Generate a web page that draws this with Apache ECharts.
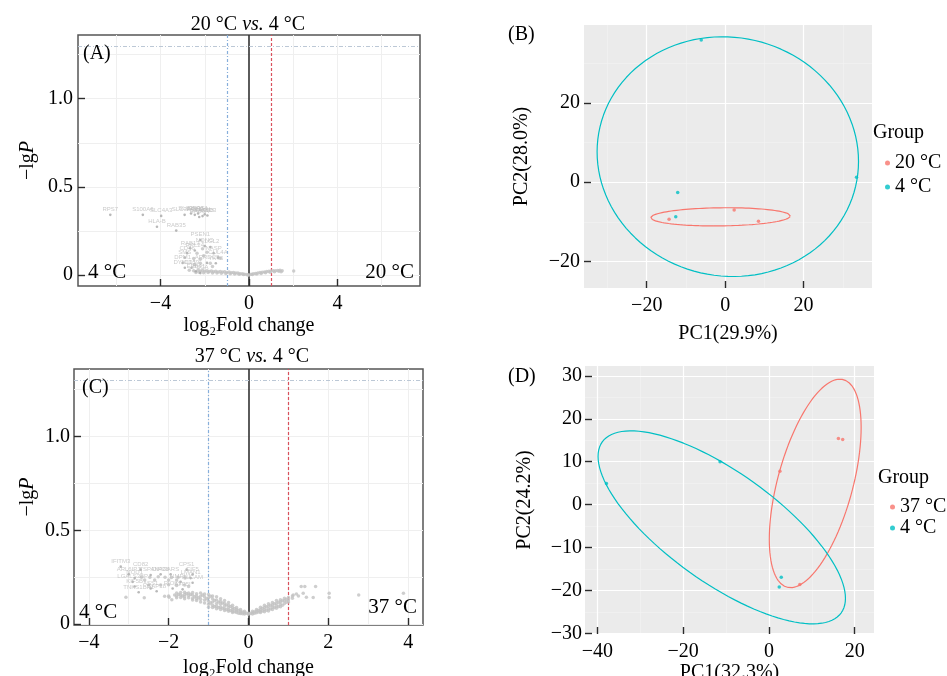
<!DOCTYPE html>
<html><head><meta charset="utf-8">
<script src="https://cdn.jsdelivr.net/npm/echarts@6/dist/echarts.min.js"></script>
<style>html,body{margin:0;padding:0;background:#fff}#c{width:947px;height:676px}</style>
</head><body><div id="c"></div><script>
// ---------------- DATA ----------------
// Panel A: volcano 20 °C vs 4 °C  [log2FC, -lgP]
const volcA_band = [
[-2.7,0.028],[-2.5,0.025],[-2.3,0.03],[-2.2,0.024],[-2.1,0.027],[-2.0,0.022],[-1.9,0.026],[-1.8,0.021],[-1.7,0.024],[-1.6,0.02],[-1.5,0.023],[-1.4,0.019],[-1.3,0.021],[-1.2,0.018],[-1.1,0.02],[-1.0,0.016],[-0.9,0.018],[-0.8,0.014],[-0.7,0.015],[-0.6,0.012],[-0.5,0.012],[-0.4,0.009],[-0.3,0.008],[-0.2,0.006],[-0.1,0.004],[0.0,0.002],[0.1,0.005],[0.2,0.008],[0.3,0.01],[0.4,0.013],[0.5,0.015],[0.6,0.017],[0.7,0.019],[0.8,0.021],[0.9,0.022],[1.0,0.024],[1.1,0.025],[1.2,0.026],[1.3,0.027],[1.4,0.028],[1.5,0.026],[2.02,0.024],
[-2.4,0.015],[-2.25,0.017],[-2.05,0.014],[-1.85,0.015],[-1.65,0.013],[-1.45,0.012],[-1.25,0.011],[-1.05,0.01],[-0.85,0.009],[-0.65,0.007],[-0.45,0.005],[-0.25,0.004],[-0.05,0.001],[0.15,0.004],[0.35,0.007],[0.55,0.01],[0.75,0.014],[0.95,0.017],[1.15,0.02],[1.35,0.022],[1.45,0.02],
[-2.35,0.125],[-2.05,0.11],[-2.2,0.09],[-1.9,0.13],[-1.3,0.096],[-2.2,0.068],[-1.75,0.068],[-2.5,0.095],[-2.1,0.15],[-2.45,0.06],[-1.65,0.05]
];
const volcA_genes = ['RPS7','S100A6','SLC4A3','HLA-B','RAB35','SLC38A1','SLC29A1','POLE','RNPS1','SEC22B','LYN','ARID3','RAB6A','PSEN1','NONO','LLGL2','RAB13','RPL24','CD46','NASP','SMS','CUL4A','DPM1','ARRDC3','YKT6','DYNLL1','CD59','EPB41','PSCA'];
const volcA_geneX = [-6.27,-4.80,-3.97,-4.16,-3.29,-2.91,-2.62,-2.45,-2.3,-2.1,-2.0,-1.88,-2.25,-2.2,-2.0,-1.75,-2.66,-2.45,-2.8,-1.6,-2.9,-1.4,-3.0,-1.9,-1.5,-2.9,-2.6,-2.4,-2.2];
const volcA_geneY = [0.342,0.342,0.336,0.275,0.253,0.342,0.35,0.342,0.35,0.335,0.345,0.338,0.33,0.2,0.165,0.16,0.153,0.14,0.125,0.125,0.1,0.1,0.07,0.07,0.068,0.042,0.042,0.022,0.012];

// Panel C: volcano 37 °C vs 4 °C
const volcC_band = [
[-2.1,0.148],[-2.0,0.15],[-1.92,0.13],[-1.85,0.155],
[-1.8,0.165],[-1.8,0.15],[-1.8,0.14],[-1.75,0.158],
[-1.7,0.168],[-1.7,0.155],[-1.7,0.142],[-1.65,0.15],
[-1.6,0.17],[-1.6,0.158],[-1.6,0.145],[-1.6,0.135],[-1.55,0.162],
[-1.5,0.165],[-1.5,0.152],[-1.5,0.14],[-1.45,0.158],
[-1.4,0.168],[-1.4,0.155],[-1.4,0.138],[-1.4,0.128],[-1.35,0.146],
[-1.3,0.162],[-1.3,0.15],[-1.3,0.135],[-1.3,0.125],[-1.25,0.14],
[-1.2,0.165],[-1.2,0.148],[-1.2,0.132],[-1.2,0.118],[-1.15,0.155],
[-1.1,0.16],[-1.1,0.145],[-1.1,0.128],[-1.1,0.112],[-1.05,0.135],
[-1.0,0.158],[-1.0,0.14],[-1.0,0.122],[-1.0,0.105],[-1.0,0.09],
[-0.95,0.148],[-0.95,0.112],
[-0.9,0.15],[-0.9,0.135],[-0.9,0.118],[-0.9,0.1],[-0.9,0.088],
[-0.85,0.126],[-0.85,0.094],
[-0.8,0.145],[-0.8,0.128],[-0.8,0.11],[-0.8,0.095],[-0.8,0.082],
[-0.75,0.118],[-0.75,0.088],
[-0.7,0.135],[-0.7,0.12],[-0.7,0.105],[-0.7,0.09],[-0.7,0.078],
[-0.65,0.112],[-0.65,0.084],
[-0.6,0.125],[-0.6,0.11],[-0.6,0.096],[-0.6,0.082],[-0.6,0.072],
[-0.55,0.102],[-0.55,0.078],
[-0.5,0.115],[-0.5,0.1],[-0.5,0.088],[-0.5,0.076],[-0.5,0.068],
[-0.45,0.094],[-0.45,0.072],
[-0.4,0.1],[-0.4,0.088],[-0.4,0.078],[-0.4,0.068],[-0.4,0.062],
[-0.35,0.083],[-0.35,0.066],
[-0.3,0.088],[-0.3,0.078],[-0.3,0.07],[-0.3,0.062],
[-0.25,0.073],[-0.25,0.058],
[-0.2,0.078],[-0.2,0.068],[-0.2,0.06],[-0.2,0.056],
[-0.15,0.064],[-0.15,0.055],
[-0.1,0.068],[-0.1,0.06],[-0.1,0.054],
[-0.05,0.057],[0,0.058],[0,0.052],[0.05,0.056],
[0.1,0.068],[0.1,0.06],[0.1,0.054],
[0.15,0.066],[0.15,0.058],
[0.2,0.078],[0.2,0.068],[0.2,0.06],
[0.25,0.074],[0.25,0.064],
[0.3,0.09],[0.3,0.078],[0.3,0.068],[0.3,0.062],
[0.35,0.084],[0.35,0.07],
[0.4,0.1],[0.4,0.088],[0.4,0.076],[0.4,0.066],
[0.45,0.092],[0.45,0.074],
[0.5,0.108],[0.5,0.095],[0.5,0.082],[0.5,0.07],
[0.55,0.1],[0.55,0.08],
[0.6,0.115],[0.6,0.102],[0.6,0.09],[0.6,0.078],
[0.65,0.108],[0.65,0.088],
[0.7,0.125],[0.7,0.11],[0.7,0.096],[0.7,0.084],
[0.75,0.116],[0.75,0.094],
[0.8,0.13],[0.8,0.118],[0.8,0.104],[0.8,0.092],
[0.85,0.124],[0.85,0.1],
[0.9,0.138],[0.9,0.125],[0.9,0.11],
[0.95,0.132],[0.95,0.116],
[1.0,0.142],[1.0,0.13],[1.0,0.118],
[1.1,0.15],[1.1,0.138],
[1.12,0.155],[1.2,0.16],[1.25,0.15],[1.32,0.2],[1.41,0.2],[1.68,0.2],[1.37,0.164],[1.45,0.143],[1.62,0.142],[2.02,0.164],[2.02,0.142],[2.76,0.155],[3.88,0.164],
[-3.07,0.143],[-2.61,0.14],[-1.99,0.143],
[-2.68,0.25],[-2.47,0.25],[-2.26,0.252],[-2.09,0.25],[-1.93,0.248],[-1.76,0.25],[-1.59,0.245],
[-2.6,0.235],[-2.35,0.235],[-2.0,0.235],[-1.8,0.235],
[-2.5,0.208],[-2.2,0.208],[-2.0,0.21],[-1.8,0.206],[-1.6,0.208],[-1.5,0.2]
];
const volcC_genes = ['IFITM3','CD82','ARL6IP1','NOD1','TSPAN4','DIP2B','GARS','CPS1','EIF5','LMAN1','LGALS3BP','NMRK1','ALCAM','KIF5B','ASS1','RIOK3','TNKS1BP1','SAP18','ATP5I'];
const volcC_geneX = [-3.2,-2.7,-3.0,-2.85,-2.45,-2.2,-1.95,-1.55,-1.4,-1.45,-2.9,-1.7,-1.4,-2.85,-2.45,-1.9,-2.75,-2.3,-1.65];
const volcC_geneY = [0.306,0.29,0.265,0.245,0.262,0.265,0.265,0.29,0.265,0.245,0.225,0.225,0.22,0.2,0.19,0.19,0.17,0.175,0.185];

// Panel B: PCA 20 °C vs 4 °C  [PC1, PC2]
const pcaB_20 = [[-14.3,-9.35],[2.3,-7.0],[8.5,-9.85]];
const pcaB_4  = [[-6.1,35.9],[33.5,1.26],[-12.1,-2.6],[-12.6,-8.7]];
// Panel D: PCA 37 °C vs 4 °C
const pcaD_37 = [[16.2,15.4],[17.2,15.2],[2.56,7.76],[7.2,-18.6]];
const pcaD_4  = [[-37.9,4.9],[-11.4,10.0],[2.87,-16.9],[2.4,-19.2]];

// thresholds
const fcCut = [-1, 1];
const pCut = 1.301;

// ---------------- STYLE ----------------
const SERIF = 'Liberation Serif';
const RED = '#F8766D', CYAN = '#00BFC4';
const fmt = v => (v < 0 ? '\u2212' + Math.abs(v) : String(v));
const fmtY = v => (v === 0 ? '0' : v.toFixed(1));
const tickFont = {color:'#000', fontFamily:SERIF, fontSize:20};

// 68% normal data ellipse (ggbiplot style) computed from the group points
function dataEllipse(pts){
  const n = pts.length;
  let mx=0,my=0; pts.forEach(p=>{mx+=p[0];my+=p[1];}); mx/=n; my/=n;
  let sxx=0,syy=0,sxy=0;
  pts.forEach(p=>{const dx=p[0]-mx, dy=p[1]-my; sxx+=dx*dx; syy+=dy*dy; sxy+=dx*dy;});
  sxx/=(n-1); syy/=(n-1); sxy/=(n-1);
  const ed = Math.sqrt(-2*Math.log(1-0.68));
  const r11=Math.sqrt(sxx), r12=sxy/r11, r22=Math.sqrt(Math.max(syy-r12*r12,0));
  const out=[];
  for(let i=0;i<=120;i++){const t=2*Math.PI*i/120, c=Math.cos(t), s=Math.sin(t);
    out.push([mx+ed*c*r11, my+ed*(c*r12+s*r22)]);}
  return out;
}

function gridMarks(xs, ys, color, width){
  return {silent:true, z:1, symbol:['none','none'], label:{show:false}, animation:false,
    lineStyle:{color, width, type:'solid'},
    data: xs.map(v=>({xAxis:v})).concat(ys.map(v=>({yAxis:v})))};
}
function refMarks(){
  return {silent:true, z:2, symbol:['none','none'], label:{show:false}, animation:false,
    data:[
      {xAxis:0, lineStyle:{color:'#333', width:1.6, type:'solid'}},
      {xAxis:fcCut[0], lineStyle:{color:'#86AEDB', width:1.2, type:[3,2,1,2]}},
      {xAxis:fcCut[1], lineStyle:{color:'#D9505C', width:1.2, type:[3,2]}},
      {yAxis:pCut, lineStyle:{color:'#BCC8D6', width:1, type:[4,2,1,2]}}
    ]};
}

const chart = echarts.init(document.getElementById('c'), null, {renderer:'canvas'});

const grids = [
  {left:78, top:35, width:342, height:251, show:true, backgroundColor:'#fff', borderColor:'#555', borderWidth:1.5},
  {left:584, top:25, width:288, height:263, show:true, backgroundColor:'#EBEBEB', borderWidth:0},
  {left:74, top:369, width:349, height:256, show:true, backgroundColor:'#fff', borderColor:'#555', borderWidth:1.5},
  {left:585, top:366, width:289, height:268, show:true, backgroundColor:'#EBEBEB', borderWidth:0}
].map(g=>Object.assign({containLabel:false, outerBoundsMode:'none'}, g));

function axis(gi, min, max, ticks, name, nameGap, yFmt, labelMargin, nameRich){
  const o = {gridIndex:gi, type:'value', min, max, scale:true, z:10,
    axisLine:{show:false, onZero:false}, splitLine:{show:false},
    axisTick:{show:true, inside:true, length:7, customValues:ticks, lineStyle:{color:'#2b2b2b', width:1.4}},
    axisLabel:Object.assign({customValues:ticks, formatter:yFmt||fmt, margin:labelMargin}, tickFont),
    name, nameLocation:'middle', nameGap,
    nameTextStyle:{color:'#000', fontFamily:SERIF, fontSize:20}};
  if(nameRich) o.nameTextStyle.rich = nameRich;
  return o;
}
const yRich = {a:{fontFamily:SERIF, fontSize:20, color:'#000'}, b:{fontFamily:SERIF, fontSize:20, fontStyle:'italic', color:'#000'}};

const xAxes = [
  axis(0, -7.73, 7.73, [-4,0,4], 'log\u2082Fold change', 30, null, 8),
  axis(1, -36, 37.45, [-20,0,20], 'PC1(29.9%)', 36, null, 8),
  axis(2, -4.37, 4.37, [-4,-2,0,2,4], 'log\u2082Fold change', 33, null, 8),
  axis(3, -42.9, 24.5, [-40,-20,0,20], 'PC1(32.3%)', 26, null, 8)
];
const yAxes = [
  axis(0, -0.061, 1.361, [0,0.5,1.0], '{a|\u2212lg}{b|P}', 40, fmtY, 5, yRich),
  axis(1, -26.7, 39.7, [-20,0,20], 'PC2(28.0%)', 52, null, 4),
  axis(2, -0.005, 1.36, [0,0.5,1.0], '{a|\u2212lg}{b|P}', 36, fmtY, 4, yRich),
  axis(3, -30.15, 32.3, [-30,-20,-10,0,10,20,30], 'PC2(24.2%)', 50, null, 3)
];

const ptStyle = {color:'#C2C2C2'};
const geneLabel = {show:true, position:'top', distance:1, fontSize:6, color:'#BDBDBD', fontFamily:'Liberation Sans', formatter: p=>p.name};

function geneData(names, xs, ys){ return names.map((n,i)=>({name:n, value:[xs[i], ys[i]]})); }

const series = [
  // Panel A
  {type:'scatter', xAxisIndex:0, yAxisIndex:0, data:[], z:1, silent:true,
    markLine: gridMarks([-6,-4,-2,2,4,6],[0,0.25,0.5,0.75,1.0,1.25],'#EFEFEF',1)},
  {type:'scatter', xAxisIndex:0, yAxisIndex:0, data:[], z:2, silent:true, markLine: refMarks()},
  {type:'scatter', xAxisIndex:0, yAxisIndex:0, data:volcA_band, symbolSize:3.5, itemStyle:ptStyle, z:3},
  {type:'scatter', xAxisIndex:0, yAxisIndex:0, data:geneData(volcA_genes, volcA_geneX, volcA_geneY), symbolSize:2.6, itemStyle:{color:'#A6A6A6'}, label:geneLabel, labelLayout:{hideOverlap:false}, z:4},
  // Panel C
  {type:'scatter', xAxisIndex:2, yAxisIndex:2, data:[], z:1, silent:true,
    markLine: gridMarks([-4,-3,-2,-1,1,2,3,4],[0,0.25,0.5,0.75,1.0,1.25],'#EFEFEF',1)},
  {type:'scatter', xAxisIndex:2, yAxisIndex:2, data:[], z:2, silent:true, markLine: refMarks()},
  {type:'scatter', xAxisIndex:2, yAxisIndex:2, data:volcC_band, symbolSize:3.5, itemStyle:ptStyle, z:3},
  {type:'scatter', xAxisIndex:2, yAxisIndex:2, data:geneData(volcC_genes, volcC_geneX, volcC_geneY), symbolSize:2.6, itemStyle:{color:'#A6A6A6'}, label:geneLabel, labelLayout:{hideOverlap:false}, z:4},
  // Panel B
  {type:'scatter', xAxisIndex:1, yAxisIndex:1, data:[], z:1, silent:true,
    markLine: gridMarks([-30,-10,10,30],[-10,10,30],'#F3F3F3',0.6)},
  {type:'scatter', xAxisIndex:1, yAxisIndex:1, data:[], z:1, silent:true,
    markLine: gridMarks([-20,0,20],[-20,0,20],'#FFFFFF',1.2)},
  {name:'20 \u00b0C', type:'scatter', xAxisIndex:1, yAxisIndex:1, data:pcaB_20, symbolSize:3.5, itemStyle:{color:RED}, z:4},
  {name:'4 \u00b0C', type:'scatter', xAxisIndex:1, yAxisIndex:1, data:pcaB_4, symbolSize:3.5, itemStyle:{color:CYAN}, z:4},
  {name:'20 \u00b0C', type:'line', xAxisIndex:1, yAxisIndex:1, data:dataEllipse(pcaB_20), showSymbol:false, symbol:'none', lineStyle:{color:RED, width:1.2}, itemStyle:{color:RED}, z:3, silent:true},
  {name:'4 \u00b0C', type:'line', xAxisIndex:1, yAxisIndex:1, data:dataEllipse(pcaB_4), showSymbol:false, symbol:'none', lineStyle:{color:CYAN, width:1.2}, itemStyle:{color:CYAN}, z:3, silent:true},
  // Panel D
  {type:'scatter', xAxisIndex:3, yAxisIndex:3, data:[], z:1, silent:true,
    markLine: gridMarks([-30,-10,10],[-25,-15,-5,5,15,25],'#F3F3F3',0.6)},
  {type:'scatter', xAxisIndex:3, yAxisIndex:3, data:[], z:1, silent:true,
    markLine: gridMarks([-40,-20,0,20],[-30,-20,-10,0,10,20,30],'#FFFFFF',1.2)},
  {name:'37 \u00b0C', type:'scatter', xAxisIndex:3, yAxisIndex:3, data:pcaD_37, symbolSize:3.5, itemStyle:{color:RED}, z:4},
  {name:'4 \u00b0C', type:'scatter', xAxisIndex:3, yAxisIndex:3, data:pcaD_4, symbolSize:3.5, itemStyle:{color:CYAN}, z:4},
  {name:'37 \u00b0C', type:'line', xAxisIndex:3, yAxisIndex:3, data:dataEllipse(pcaD_37), showSymbol:false, symbol:'none', lineStyle:{color:RED, width:1.2}, itemStyle:{color:RED}, z:3, silent:true},
  {name:'4 \u00b0C', type:'line', xAxisIndex:3, yAxisIndex:3, data:dataEllipse(pcaD_4), showSymbol:false, symbol:'none', lineStyle:{color:CYAN, width:1.2}, itemStyle:{color:CYAN}, z:3, silent:true}
];

const legendBase = {orient:'vertical', icon:'circle', itemWidth:5, itemHeight:5, selectedMode:false,
  textStyle:{color:'#000', fontFamily:SERIF, fontSize:20}};
const legends = [
  Object.assign({}, legendBase, {left:880, top:148, itemGap:4, data:['20 \u00b0C','4 \u00b0C']}),
  Object.assign({}, legendBase, {left:885, top:492, itemGap:1, data:['37 \u00b0C','4 \u00b0C']})
];

function txt(x, y, text, align, size, rich){
  const st = {text, x:0, y:0, fill:'#000', font:`${size||20}px "${SERIF}"`, textAlign:align||'left', textVerticalAlign:'middle'};
  if(rich){ st.rich = rich; }
  return {type:'text', x, y, z:100, silent:true, style:st};
}
const titleRich = {n:{fontFamily:SERIF, fontSize:20, fill:'#000', color:'#000'}, i:{fontFamily:SERIF, fontSize:20, fontStyle:'italic', fill:'#000', color:'#000'}};
const graphics = [
  txt(248, 25, '{n|20 \u00b0C }{i|vs.}{n| 4 \u00b0C}', 'center', 20, titleRich),
  txt(252, 357, '{n|37 \u00b0C }{i|vs.}{n| 4 \u00b0C}', 'center', 20, titleRich),
  txt(83, 54, '(A)', 'left', 20),
  txt(508, 35, '(B)', 'left', 20),
  txt(82, 388, '(C)', 'left', 20),
  txt(508, 377, '(D)', 'left', 20),
  txt(88, 272, '4 \u00b0C', 'left', 21),
  txt(414, 272, '20 \u00b0C', 'right', 21),
  txt(79, 612, '4 \u00b0C', 'left', 21),
  txt(417, 607, '37 \u00b0C', 'right', 21),
  txt(873, 133, 'Group', 'left', 20),
  txt(878, 478, 'Group', 'left', 20)
];

chart.setOption({
  animation:false,
  backgroundColor:'#fff',
  grid:grids, xAxis:xAxes, yAxis:yAxes, series, legend:legends, graphic:graphics
});
</script></body></html>
